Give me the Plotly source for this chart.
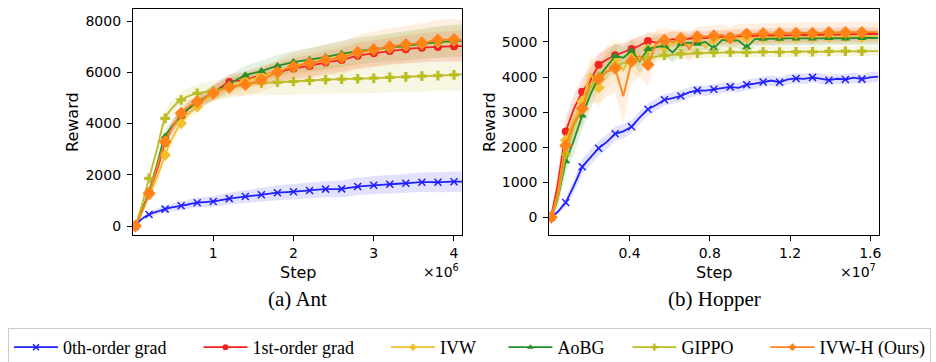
import plotly.graph_objects as go

# ---------------- data ----------------
SERIES = ["0th-order grad", "1st-order grad", "IVW", "AoBG", "GIPPO", "IVW-H (Ours)"]

ANT_STEPS = [30000, 100000, 200000, 300000, 400000, 500000, 600000, 700000, 800000,
             1000000, 1200000, 1400000, 1600000, 1800000, 2000000, 2200000, 2400000,
             2600000, 2800000, 3000000, 3200000, 3400000, 3600000, 3800000, 4000000, 4100000]
ant_zeroth = [0, 250, 450, 560, 660, 740, 790, 850, 910, 960, 1070, 1150, 1220, 1300, 1340, 1390,
              1440, 1450, 1540, 1590, 1630, 1670, 1710, 1710, 1730, 1730]
ant_first = [0, 500, 1340, 2200, 3230, 3900, 4270, 4600, 4790, 5200, 5620, 5700, 5900, 6000, 6150,
             6250, 6380, 6480, 6650, 6740, 6830, 6900, 6960, 6990, 7020, 7020]
ant_ivw = [0, 450, 1220, 1900, 2770, 3500, 4010, 4400, 4660, 5150, 5450, 5650, 5850, 6050, 6250,
           6380, 6500, 6620, 6760, 6880, 6950, 7030, 7100, 7170, 7230, 7240]
ant_aobg = [0, 500, 1350, 2400, 3490, 3950, 4300, 4600, 4850, 5200, 5550, 5880, 6050, 6250, 6400,
            6490, 6600, 6720, 6830, 6900, 6960, 7030, 7110, 7180, 7220, 7230]
ant_gippo = [0, 700, 1860, 3000, 4200, 4650, 4920, 5080, 5180, 5280, 5410, 5540, 5580, 5610, 5640,
             5680, 5710, 5730, 5750, 5770, 5800, 5820, 5850, 5870, 5900, 5920]
ant_ivwh = [0, 480, 1280, 2300, 3290, 3900, 4400, 4680, 4850, 5180, 5420, 5520, 5700, 6000, 6220,
            6350, 6480, 6580, 6780, 6890, 7000, 7080, 7150, 7260, 7280, 7250]

ant_zeroth_sd = [0, 60, 100, 120, 140, 160, 170, 180, 190, 210, 230, 250, 270, 290, 300, 310, 320,
                 330, 340, 350, 360, 370, 380, 390, 400, 400]
ant_first_sd = [0, 100, 200, 250, 250, 250, 250, 250, 250, 280, 300, 330, 360, 380, 400, 420, 440,
                460, 480, 500, 520, 540, 560, 580, 600, 600]
ant_ivw_sd = [0, 100, 200, 250, 250, 250, 250, 250, 250, 280, 300, 330, 360, 380, 400, 420, 440,
              460, 480, 500, 520, 540, 560, 580, 600, 600]
ant_aobg_sd = [0, 100, 200, 250, 250, 250, 250, 250, 250, 280, 320, 360, 400, 420, 440, 460, 480,
               500, 520, 540, 560, 580, 600, 620, 640, 640]
ant_gippo_sd = [0, 100, 200, 250, 300, 300, 300, 320, 350, 380, 420, 450, 480, 500, 520, 540, 550,
                560, 570, 580, 590, 600, 600, 610, 620, 620]
ant_ivwh_sd = [0, 100, 200, 250, 250, 250, 250, 250, 250, 300, 350, 400, 450, 500, 550, 580, 610,
               640, 670, 700, 720, 740, 760, 780, 800, 800]

HOP_STEPS = [100000, 410000, 820000, 1230000, 1640000, 2050000, 2460000, 2870000, 3280000,
             3690000, 4100000, 4510000, 4920000, 5330000, 5740000, 6150000, 6560000, 6970000,
             7380000, 7790000, 8200000, 8610000, 9020000, 9430000, 9840000, 10250000, 10660000,
             11070000, 11480000, 11890000, 12300000, 12710000, 13120000, 13530000, 13940000,
             14350000, 14760000, 15170000, 15580000, 15990000, 16400000]
hop_zeroth = [0, 150, 420, 900, 1440, 1700, 1970, 2150, 2380, 2450, 2580, 2850, 3080, 3200, 3350,
              3400, 3460, 3560, 3620, 3610, 3650, 3700, 3720, 3690, 3780, 3810, 3860, 3900, 3850,
              3930, 3960, 3950, 3990, 3960, 3910, 3950, 3930, 3980, 3940, 3990, 4010]
hop_first = [50, 900, 2450, 3100, 3580, 3900, 4350, 4500, 4620, 4700, 4800, 4900, 5030, 4980, 5020,
             5080, 5070, 5100, 5120, 5110, 5130, 5140, 5150, 5160, 5170, 5160, 5180, 5190, 5180,
             5190, 5200, 5200, 5190, 5210, 5200, 5210, 5220, 5210, 5220, 5230, 5220]
hop_ivw = [0, 600, 2200, 2800, 3300, 4100, 3700, 4300, 4500, 4200, 4650, 4500, 4800, 4900, 4850,
           4950, 5000, 4900, 5050, 4850, 5080, 5100, 5110, 5100, 5120, 5110, 5120, 5130, 5120,
           5130, 5140, 5130, 5140, 5140, 5150, 5140, 5150, 5150, 5140, 5150, 5160]
hop_aobg = [0, 500, 1600, 2200, 2900, 3500, 4000, 4300, 4600, 4550, 4750, 4450, 4800, 4850, 4900,
            4700, 4950, 4980, 4950, 5000, 4820, 5050, 5060, 5040, 4850, 5080, 5090, 5100, 5090,
            5100, 5100, 5110, 5100, 5100, 5110, 5110, 5100, 5110, 5110, 5120, 5110]
hop_gippo = [0, 500, 1800, 2600, 3100, 3700, 4000, 4150, 4300, 4400, 4450, 4500, 4550, 4580, 4620,
             4640, 4660, 4670, 4680, 4690, 4700, 4700, 4710, 4710, 4700, 4710, 4720, 4720, 4710,
             4720, 4720, 4730, 4720, 4730, 4730, 4730, 4740, 4730, 4740, 4740, 4740]
hop_ivwh = [0, 700, 2050, 2700, 3100, 3850, 3950, 4150, 4250, 3450, 4450, 4600, 4350, 4950, 5050,
            5000, 5100, 4800, 5150, 5150, 5180, 5200, 5120, 5200, 5230, 5220, 5240, 5230, 5250,
            5240, 5250, 5260, 5250, 5260, 5270, 5260, 5270, 5280, 5270, 5280, 5280]

hop_zeroth_sd = [0, 60, 120, 180, 220, 230, 220, 210, 200, 200, 190, 180, 170, 170, 160, 160, 160,
                 150, 150, 150, 150, 150, 150, 140, 150, 150, 140, 150, 150, 140, 150, 150, 140,
                 150, 150, 140, 150, 150, 140, 150, 150]
hop_first_sd = [0, 300, 400, 400, 400, 350, 300, 300, 300, 280, 260, 250, 250, 240, 230, 220, 220,
                210, 210, 200, 200, 200, 200, 210, 200, 200, 210, 200, 200, 210, 200, 200, 210,
                200, 200, 210, 200, 200, 210, 200, 200]
hop_ivw_sd = [0, 300, 500, 500, 500, 500, 600, 600, 600, 700, 500, 500, 450, 400, 350, 350, 300,
              350, 300, 300, 250, 220, 220, 230, 220, 220, 230, 220, 220, 230, 220, 220, 230, 220,
              220, 230, 220, 220, 230, 220, 220]
hop_aobg_sd = [0, 250, 350, 400, 400, 400, 350, 350, 350, 300, 300, 350, 300, 300, 250, 300, 250,
               230, 230, 220, 250, 200, 200, 210, 230, 200, 200, 210, 200, 200, 210, 200, 200, 210,
               200, 200, 210, 200, 200, 210, 200]
hop_gippo_sd = [0, 200, 300, 300, 300, 250, 250, 220, 200, 200, 180, 170, 160, 150, 150, 150, 150,
                140, 140, 140, 140, 140, 140, 150, 140, 140, 150, 140, 140, 150, 140, 140, 150,
                140, 140, 150, 140, 140, 150, 140, 140]
hop_ivwh_sd = [0, 300, 500, 500, 500, 600, 700, 700, 700, 800, 600, 600, 600, 400, 350, 350, 300,
               400, 300, 300, 300, 300, 300, 310, 300, 300, 310, 300, 300, 310, 300, 300, 310, 300,
               300, 310, 300, 300, 310, 300, 300]

ANT_XTICKS = [1000000, 2000000, 3000000, 4000000]
ANT_XTICKTEXT = ["1", "2", "3", "4"]
ANT_YTICKS = [0, 2000, 4000, 6000, 8000]
HOP_XTICKS = [4000000, 8000000, 12000000, 16000000]
HOP_XTICKTEXT = ["0.4", "0.8", "1.2", "1.6"]
HOP_YTICKS = [0, 1000, 2000, 3000, 4000, 5000]

# ---------------- style ----------------
COLORS = ["#1f1fff", "#f52222", "#f0c12c", "#24902a", "#bcbd22", "#ff8319"]
SYMBOLS = ["x-thin", "circle", "diamond", "triangle-up", "cross", "diamond"]
MSIZES = [7, 8, 9, 8, 8, 10]
LEGEND_PAD = [6, 6, 5, 4, 6, 0]   # trailing spacing per legend entry (layout only)

W, H = 936, 362


def rgba(hexc, a):
    h = hexc.lstrip("#")
    return "rgba(%d,%d,%d,%.2f)" % (int(h[0:2], 16), int(h[2:4], 16), int(h[4:6], 16), a)


fig = go.Figure()

ant_vals = [ant_zeroth, ant_first, ant_ivw, ant_aobg, ant_gippo, ant_ivwh]
ant_sds = [ant_zeroth_sd, ant_first_sd, ant_ivw_sd, ant_aobg_sd, ant_gippo_sd, ant_ivwh_sd]
hop_vals = [hop_zeroth, hop_first, hop_ivw, hop_aobg, hop_gippo, hop_ivwh]
hop_sds = [hop_zeroth_sd, hop_first_sd, hop_ivw_sd, hop_aobg_sd, hop_gippo_sd, hop_ivwh_sd]

ant_mark = [i for i, s in enumerate(ANT_STEPS) if s <= 4000000 and (s < 100000 or (s // 100000) % 2 == 0)]
hop_mark = [i for i in range(0, len(HOP_STEPS) - 1, 2)]


def add_panel(steps, vals, sds, mark_idx, xa, ya, shape, band_alpha):
    for k in range(len(vals)):
        up = [v + s for v, s in zip(vals[k], sds[k])]
        lo = [v - s for v, s in zip(vals[k], sds[k])]
        fig.add_trace(go.Scatter(x=steps, y=up, mode="lines", line=dict(width=0, shape=shape),
                                 xaxis=xa, yaxis=ya, showlegend=False, hoverinfo="skip"))
        fig.add_trace(go.Scatter(x=steps, y=lo, mode="lines", line=dict(width=0, shape=shape),
                                 fill="tonexty", fillcolor=rgba(COLORS[k], band_alpha),
                                 xaxis=xa, yaxis=ya, showlegend=False, hoverinfo="skip"))
    for k in range(len(vals)):
        fig.add_trace(go.Scatter(x=steps, y=vals[k], mode="lines",
                                 line=dict(color=COLORS[k], width=1.8, shape=shape),
                                 xaxis=xa, yaxis=ya, showlegend=False, hoverinfo="skip"))
        fig.add_trace(go.Scatter(x=[steps[i] for i in mark_idx], y=[vals[k][i] for i in mark_idx],
                                 mode="markers",
                                 marker=dict(color=COLORS[k], symbol=SYMBOLS[k], size=MSIZES[k],
                                             line=dict(color=COLORS[k], width=1.5 if k == 0 else 0)),
                                 xaxis=xa, yaxis=ya, showlegend=False, hoverinfo="skip"))


add_panel(ANT_STEPS, ant_vals, ant_sds, ant_mark, "x", "y", "spline", 0.13)
add_panel(HOP_STEPS, hop_vals, hop_sds, hop_mark, "x2", "y2", "linear", 0.13)

for k, name in enumerate(SERIES):
    fig.add_trace(go.Scatter(x=[None], y=[None], mode="lines+markers",
                             name=name + "\u00a0" * LEGEND_PAD[k],
                             line=dict(color=COLORS[k], width=1.8),
                             marker=dict(color=COLORS[k], symbol=SYMBOLS[k], size=6,
                                         line=dict(color=COLORS[k], width=1.5 if k == 0 else 0)),
                             xaxis="x", yaxis="y", showlegend=True))

tickfont = dict(family="DejaVu Sans", size=14, color="black")
axis_common = dict(showgrid=False, zeroline=False, showline=True, mirror=True, linecolor="black",
                   linewidth=1.2, ticks="outside", ticklen=5, tickwidth=1, tickcolor="black",
                   tickfont=tickfont)

xd1 = [133 / W, 462 / W]
xd2 = [549.3 / W, 878.7 / W]
yd = [1 - 235 / H, 1 - 9 / H]

fig.update_layout(
    width=W, height=H, margin=dict(l=0, r=0, t=0, b=0, autoexpand=False),
    paper_bgcolor="white", plot_bgcolor="white",
    xaxis=dict(domain=xd1, range=[0, 4100000], tickvals=ANT_XTICKS, ticktext=ANT_XTICKTEXT,
               anchor="y", ticklabelstandoff=0, **axis_common),
    yaxis=dict(domain=yd, range=[-350, 8470], tickvals=ANT_YTICKS, anchor="x",
               ticklabelstandoff=3, **axis_common),
    xaxis2=dict(domain=xd2, range=[0, 16420000], tickvals=HOP_XTICKS, ticktext=HOP_XTICKTEXT,
                anchor="y2", ticklabelstandoff=0, **axis_common),
    yaxis2=dict(domain=yd, range=[-505, 5940], tickvals=HOP_YTICKS, anchor="x2",
                ticklabelstandoff=3, **axis_common),
    showlegend=True,
    legend=dict(orientation="h", x=8 / W, y=1 - 328 / H, xanchor="left", yanchor="top",
                font=dict(family="Liberation Serif", size=18, color="black"),
                bordercolor="#cccccc", borderwidth=1, bgcolor="white", itemwidth=44,
                traceorder="normal"),
)

labfont = dict(family="DejaVu Sans", size=16, color="black")
capfont = dict(family="Liberation Serif", size=21, color="black")
ann = []
ann.append(dict(text="Reward", x=72 / W, y=1 - 122 / H, textangle=-90, font=labfont))
ann.append(dict(text="Reward", x=489 / W, y=1 - 122 / H, textangle=-90, font=labfont))
ann.append(dict(text="Step", x=297.5 / W, y=1 - 272 / H, font=labfont))
ann.append(dict(text="Step", x=714 / W, y=1 - 272 / H, font=labfont))
ann.append(dict(text="×10<sup>6</sup>", x=461 / W, y=1 - 271 / H, xanchor="right",
                font=dict(family="DejaVu Sans", size=14, color="black")))
ann.append(dict(text="×10<sup>7</sup>", x=878 / W, y=1 - 271 / H, xanchor="right",
                font=dict(family="DejaVu Sans", size=14, color="black")))
ann.append(dict(text="(a) Ant", x=297 / W, y=1 - 299 / H, font=capfont))
ann.append(dict(text="(b) Hopper", x=714 / W, y=1 - 299 / H, font=capfont))
for a in ann:
    a.update(xref="paper", yref="paper", showarrow=False)
    a.setdefault("xanchor", "center")
    a.setdefault("yanchor", "middle")
fig.update_layout(annotations=ann)

fig.write_html("out.html")
